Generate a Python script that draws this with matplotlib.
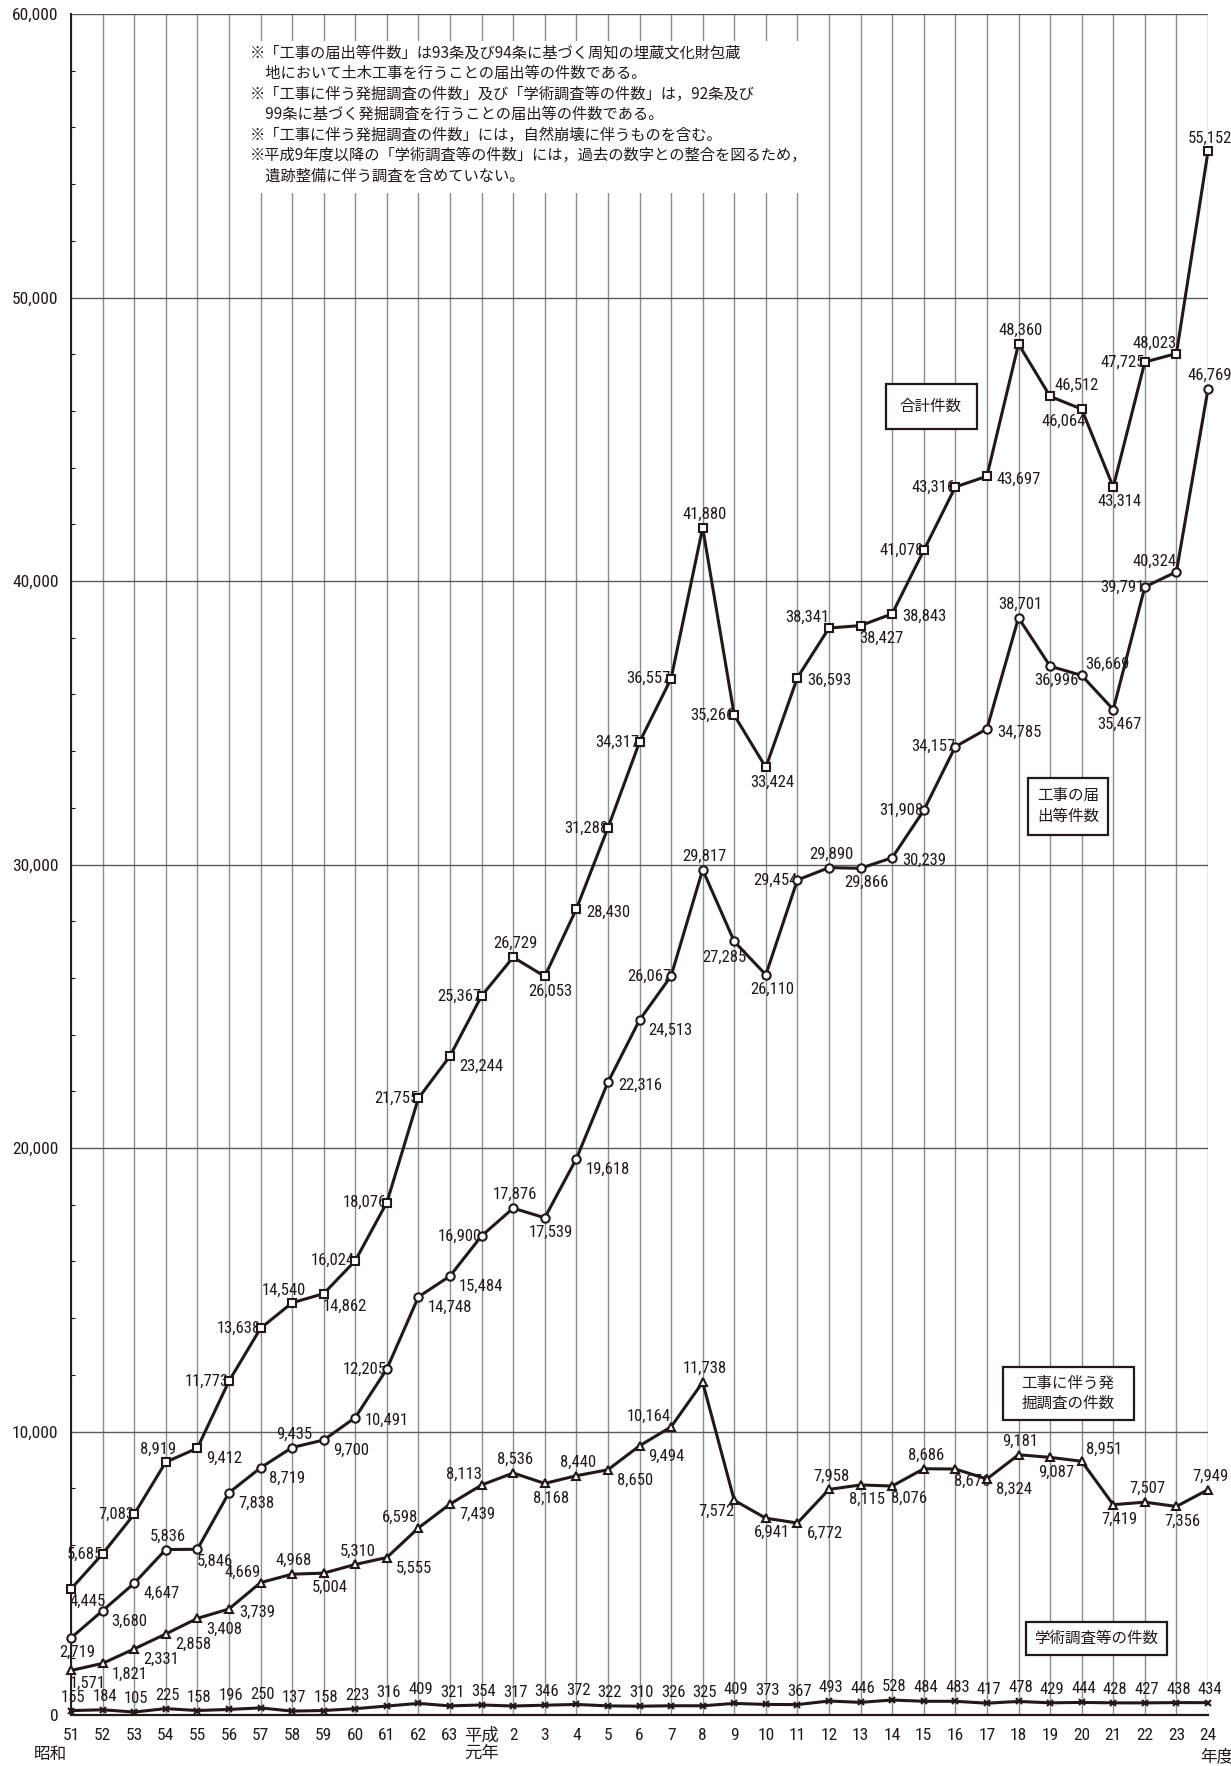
import matplotlib
matplotlib.use('Agg')
import matplotlib.pyplot as plt
from matplotlib import font_manager as fm
from matplotlib.patches import Rectangle
from matplotlib.ticker import MultipleLocator, FuncFormatter

# ---------------- data ----------------
years = ['51', '52', '53', '54', '55', '56', '57', '58', '59', '60', '61', '62', '63',
         '平成\n元年', '2', '3', '4', '5', '6', '7', '8', '9', '10', '11', '12', '13',
         '14', '15', '16', '17', '18', '19', '20', '21', '22', '23', '24']

total = [4445, 5685, 7083, 8919, 9412, 11773, 13638, 14540, 14862, 16024, 18076, 21755,
         23244, 25367, 26729, 26053, 28430, 31288, 34317, 36557, 41880, 35266, 33424,
         36593, 38341, 38427, 38843, 41078, 43316, 43697, 48360, 46512, 46064, 43314,
         47725, 48023, 55152]

notify = [2719, 3680, 4647, 5836, 5846, 7838, 8719, 9435, 9700, 10491, 12205, 14748,
          15484, 16900, 17876, 17539, 19618, 22316, 24513, 26067, 29817, 27285, 26110,
          29454, 29890, 29866, 30239, 31908, 34157, 34785, 38701, 36996, 36669, 35467,
          39791, 40324, 46769]

excav = [1571, 1821, 2331, 2858, 3408, 3739, 4669, 4968, 5004, 5310, 5555, 6598, 7439,
         8113, 8536, 8168, 8440, 8650, 9494, 10164, 11738, 7572, 6941, 6772, 7958, 8115,
         8076, 8686, 8676, 8324, 9181, 9087, 8951, 7419, 7507, 7356, 7949]

academic = [155, 184, 105, 225, 158, 196, 250, 137, 158, 223, 316, 409, 321, 354, 317,
            346, 372, 322, 310, 326, 325, 409, 373, 367, 493, 446, 528, 484, 483, 417,
            478, 429, 444, 428, 427, 438, 434]

series_names = ['合計件数', '工事の届\n出等件数', '工事に伴う発\n掘調査の件数', '学術調査等の件数']

notes = ['※「工事の届出等件数」は93条及び94条に基づく周知の埋蔵文化財包蔵',
         '\u3000地において土木工事を行うことの届出等の件数である。',
         '※「工事に伴う発掘調査の件数」及び「学術調査等の件数」は，92条及び',
         '\u300099条に基づく発掘調査を行うことの届出等の件数である。',
         '※「工事に伴う発掘調査の件数」には，自然崩壊に伴うものを含む。',
         '※平成9年度以降の「学術調査等の件数」には，過去の数字との整合を図るため，',
         '\u3000遺跡整備に伴う調査を含めていない。']

# ---------------- label placement (style) ----------------
pos_total = ['br', 'l', 'l', 'al', 'bR', 'l', 'l', 'al', 'br', 'l', 'l', 'l', 'bR', 'l',
             'a', 'b', 'r', 'l', 'l', 'l', 'a', 'l', 'b', 'r', 'la', 'br', 'r', 'l', 'l',
             'r', 'a', 'ar', 'bl', 'b', 'l', 'la', 'a']
pos_notify = ['b', 'bR', 'bR', 'a', 'br', 'bR', 'bR', 'a', 'bR', 'r', 'l', 'bR', 'bR', 'l',
              'a', 'b', 'bR', 'r', 'bR', 'l', 'a', 'bL', 'b', 'l', 'a', 'b', 'r', 'l', 'l',
              'r', 'a', 'b', 'ar', 'b', 'l', 'la', 'a']
pos_excav = ['br', 'bR', 'bR', 'bR', 'bR', 'r', 'la', 'a', 'b', 'a', 'bR', 'la', 'bR', 'la',
             'a', 'b', 'a', 'bR', 'bR', 'la', 'a', 'lb', 'b', 'bR', 'a', 'b', 'br', 'a',
             'br', 'bR', 'a', 'b', 'ar', 'b', 'a', 'b', 'a']
pos_acad = ['a'] * len(academic)

OFF = {
    'a':  (2, 6, 'center', 'bottom'),
    'al': (-8, 5, 'center', 'bottom'),
    'ar': (4, 4, 'left', 'bottom'),
    'b':  (6, -7, 'center', 'top'),
    'bL': (-10, -8, 'center', 'top'),
    'bl': (4, -5, 'right', 'top'),
    'br': (-1, -5, 'left', 'top'),
    'bR': (9, -3, 'left', 'top'),
    'l':  (0, 0, 'right', 'center'),
    'la': (0, 3, 'right', 'bottom'),
    'lb': (0, -3, 'right', 'top'),
    'r':  (10, -3, 'left', 'center'),
}

# ---------------- fonts ----------------
names = {f.name for f in fm.fontManager.ttflist}
num_font = None
for cand in ['Liberation Sans Narrow', 'Arial Narrow', 'Roboto Condensed', 'DejaVu Sans Condensed']:
    if cand in names:
        num_font = cand
        break
if num_font is None:
    num_font = 'Liberation Sans'
NUM = [num_font, 'Noto Sans CJK JP', 'DejaVu Sans']
JP = ['Noto Sans CJK JP', 'DejaVu Sans']
plt.rcParams['font.family'] = NUM
INK = '#231815'

W, H = 1231, 1766
fig = plt.figure(figsize=(W / 100, H / 100), dpi=100)
fig.patch.set_facecolor('white')


def fx(x):
    return x / W


def fy(y):
    return 1 - y / H


L, R, T, B = 71, 1208, 14, 1715
ax = fig.add_axes([fx(L), fy(B), (R - L) / W, (B - T) / H])
x = list(range(len(years)))
ax.set_xlim(0, len(years) - 1)
ax.set_ylim(0, 60000)

ax.set_axisbelow(True)
ax.set_xticks(x)
ax.set_xticklabels(years, fontsize=12.5, color=INK, linespacing=1.15)
ax.set_yticks(range(0, 60001, 10000))
ax.yaxis.set_major_formatter(FuncFormatter(lambda v, p: f'{int(v):,}'))
ax.yaxis.set_minor_locator(MultipleLocator(2000))
ax.tick_params(axis='y', which='major', length=0, pad=9, labelsize=12.5, labelcolor=INK)
ax.tick_params(axis='y', which='minor', direction='in', length=3, width=0.8, color=INK)
ax.tick_params(axis='x', which='major', length=0, pad=9)
ax.grid(axis='x', color='#8c8c8c', lw=1.0)
ax.grid(axis='y', color='#5a5a5a', lw=1.0)
for s in ['top', 'right']:
    ax.spines[s].set_visible(False)
ax.spines['left'].set_color(INK)
ax.spines['left'].set_linewidth(1.4)
ax.spines['bottom'].set_color(INK)
ax.spines['bottom'].set_linewidth(1.6)

# white area behind notes
ax.add_patch(Rectangle((fx(236), fy(193)), fx(812) - fx(236), fy(41) - fy(193),
                       transform=fig.transFigure, facecolor='white', edgecolor='none',
                       zorder=1))

styles = [
    (total, 's', 6.0, pos_total),
    (notify, 'o', 6.0, pos_notify),
    (excav, '^', 6.0, pos_excav),
    (academic, 'x', 5.0, pos_acad),
]
for vals, mk, ms, pos in styles:
    ax.plot(x, vals, color=INK, lw=2.2, marker=mk, ms=ms, mfc='white', mec=INK,
            mew=1.5, clip_on=False, zorder=4)
    for xi, v, p in zip(x, vals, pos):
        dx, dy, ha, va = OFF[p]
        ax.annotate(f'{v:,}', (xi, v), xytext=(dx, dy), textcoords='offset pixels',
                    ha=ha, va=va, fontsize=12, color=INK, zorder=3,
                    annotation_clip=False)

# notes
for i, line in enumerate(notes):
    fig.text(fx(250), fy(53 + i * 20.5), line, fontsize=11, family=JP, color=INK,
             ha='left', va='center')

# series boxes: (cx, cy, w, h)
boxes = [(931, 406, 91, 45), (1068, 806, 80, 57), (1068, 1393, 131, 53),
         (1096, 1638, 141, 33)]
for (cx, cy, bw, bh), name in zip(boxes, series_names):
    fig.patches.append(Rectangle((fx(cx - bw / 2), fy(cy + bh / 2)), bw / W, bh / H,
                                 transform=fig.transFigure, facecolor='white',
                                 edgecolor=INK, lw=1.6, zorder=6))
    fig.text(fx(cx), fy(cy), name, fontsize=11.2, family=JP, color=INK,
             ha='center', va='center', linespacing=1.25, zorder=7)

fig.text(fx(50), fy(1754), '昭和', fontsize=12, family=JP, color=INK,
         ha='center', va='center')
fig.text(fx(1217), fy(1757), '年度', fontsize=12, family=JP, color=INK,
         ha='center', va='center')

fig.savefig('out.png', dpi=100, facecolor='white')
